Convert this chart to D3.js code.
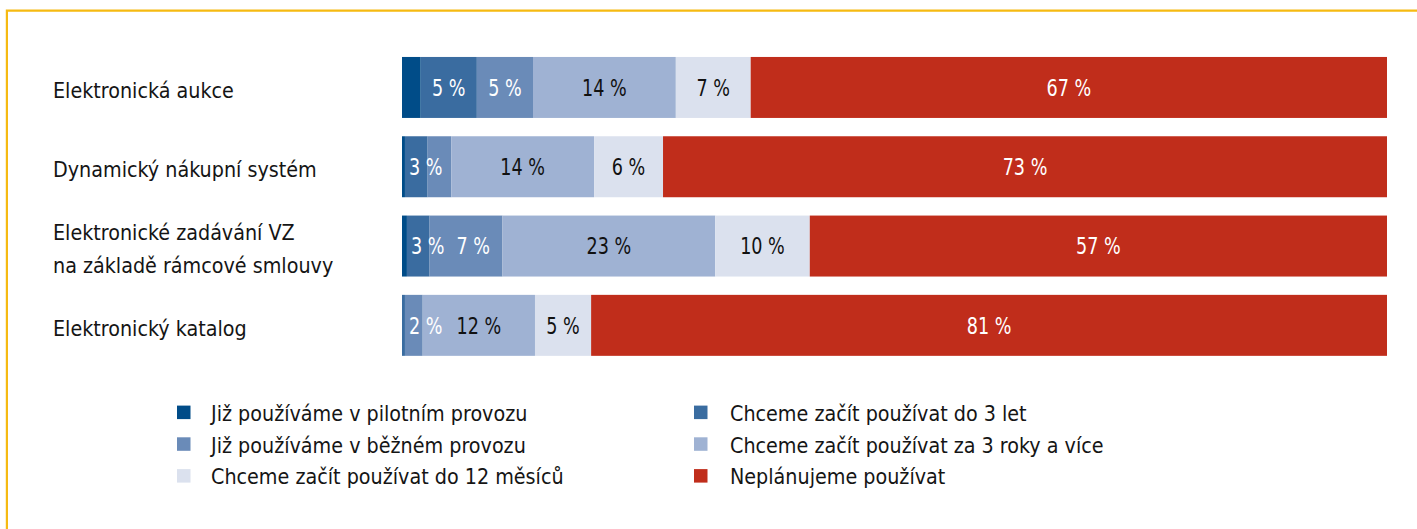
<!DOCTYPE html>
<html>
<head>
<meta charset="utf-8">
<script src="https://cdn.jsdelivr.net/npm/d3@7"></script>
<style>
    body { margin: 0; background: #fff; }
    text { font-family: "DejaVu Sans Condensed", "DejaVu Sans", sans-serif; }
</style>
</head>
<body>
<div id="chart"></div>
<script>
// categories (rows of the chart)
const categories = [
    "Elektronická aukce",
    "Dynamický nákupní systém",
    "Elektronické zadávání VZ\nna základě rámcové smlouvy",
    "Elektronický katalog"
];

// series in stacking order (same as the legend read row by row)
const seriesNames = [
    "Již používáme v pilotním provozu",
    "Chceme začít používat do 3 let",
    "Již používáme v běžném provozu",
    "Chceme začít používat za 3 roky a více",
    "Chceme začít používat do 12 měsíců",
    "Neplánujeme používat"
];
const seriesColors = ["#004c88", "#3a6ca0", "#6a8bb8", "#9fb2d3", "#dbe1ee", "#c02d1b"];
const labelColors = ["#fff", "#fff", "#fff", "#111", "#111", "#fff"];

// segment widths in %
const pilotni = [1.9, 0.3, 0.5, 0];
const doTriLet = [5.7, 2.3, 2.3, 0.3];
const bezny = [5.7, 2.4, 7.4, 1.8];
const triRokyAVice = [14.5, 14.5, 21.6, 11.4];
const do12Mesicu = [7.6, 7.0, 9.6, 5.7];
const neplanujeme = [64.6, 73.5, 58.6, 80.8];

// printed labels inside the segments
const pilotniLbl = ["", "", "", ""];
const doTriLetLbl = ["5 %", "3 %", "3 %", ""];
const beznyLbl = ["5 %", "", "7 %", "2 %"];
const triRokyAViceLbl = ["14 %", "14 %", "23 %", "12 %"];
const do12MesicuLbl = ["7 %", "6 %", "10 %", "5 %"];
const neplanujemeLbl = ["67 %", "73 %", "57 %", "81 %"];

const seriesValues = [pilotni, doTriLet, bezny, triRokyAVice, do12Mesicu, neplanujeme];
const seriesLabels = [pilotniLbl, doTriLetLbl, beznyLbl, triRokyAViceLbl, do12MesicuLbl, neplanujemeLbl];

const width = 1417;
const height = 529;
const pctScale = 0.85; // labels in the bars are set narrower

const svg = d3.select("#chart")
    .append("svg")
        .attr("width", width)
        .attr("height", height);

// yellow frame, top and left only
svg.append("path")
    .attr("d", `M6.9,${height} V10.6 H${width}`)
    .attr("fill", "none")
    .attr("stroke", "#f6ba12")
    .attr("stroke-width", 2.2);

const table = categories.map((c, i) => {
    const row = {category: c};
    seriesNames.forEach((s, j) => row[s] = seriesValues[j][i]);
    return row;
});

const stack = d3.stack().keys(seriesNames)(table);

const x = d3.scaleLinear()
    .domain([0, 100])
    .range([402, 1387]);

const y = d3.scaleBand()
    .domain(categories)
    .range([47.8, 365])
    .paddingInner(0.231)
    .paddingOuter(0.1155);

const color = d3.scaleOrdinal().domain(seriesNames).range(seriesColors);

// bars
const layers = svg.append("g")
    .selectAll("g")
    .data(stack)
    .join("g")
        .attr("fill", (d) => color(d.key));

layers.selectAll("rect")
    .data((d) => d)
    .join("rect")
        .attr("x", (d) => x(d[0]))
        .attr("y", (d) => y(d.data.category))
        .attr("width", (d) => x(d[1]) - x(d[0]))
        .attr("height", y.bandwidth());

// percentage labels, pushed right when a segment is too thin
const pctG = svg.append("g")
    .attr("font-size", 23);

categories.forEach((c, i) => {
    let lastEnd = -Infinity;
    const cy = y(c) + y.bandwidth() / 2;
    stack.forEach((layer, j) => {
        const txt = seriesLabels[j][i];
        if (!txt) return;
        const d = layer[i];
        const t = pctG.append("text")
            .attr("dy", "0.36em")
            .attr("text-anchor", "middle")
            .attr("fill", labelColors[j])
            .text(txt);
        const w = t.node().getComputedTextLength() * pctScale;
        const cx = Math.max((x(d[0]) + x(d[1])) / 2, x(d[0]) + w / 2 + 4, lastEnd + 12 + w / 2);
        lastEnd = cx + w / 2;
        t.attr("transform", `translate(${cx},${cy}) scale(${pctScale},1)`);
    });
});

// category labels
const catG = svg.append("g")
    .attr("fill", "#151515")
    .attr("font-size", 21.3);

categories.forEach((c) => {
    const lines = c.split("\n");
    const cy = y(c) + y.bandwidth() / 2 + 3;
    lines.forEach((line, k) => {
        catG.append("text")
            .attr("x", 53)
            .attr("y", cy + (k - (lines.length - 1) / 2) * 33)
            .attr("dy", "0.36em")
            .text(line);
    });
});

// legend, two columns
const legendCols = [177, 694];
const legendRows = [412.3, 444, 475.8];

const legend = svg.append("g")
    .attr("font-size", 21.3)
    .selectAll("g")
    .data(seriesNames)
    .join("g")
        .attr("transform", (d, i) => `translate(${legendCols[i % 2]},${legendRows[Math.floor(i / 2)]})`);

legend.append("rect")
    .attr("x", 0)
    .attr("y", -6.7)
    .attr("width", 13.5)
    .attr("height", 13.5)
    .attr("fill", (d) => color(d));

legend.append("text")
    .attr("x", (d, i) => i % 2 ? 36 : 34)
    .attr("y", 1)
    .attr("dy", "0.36em")
    .attr("fill", "#151515")
    .text((d) => d);
</script>
</body>
</html>
